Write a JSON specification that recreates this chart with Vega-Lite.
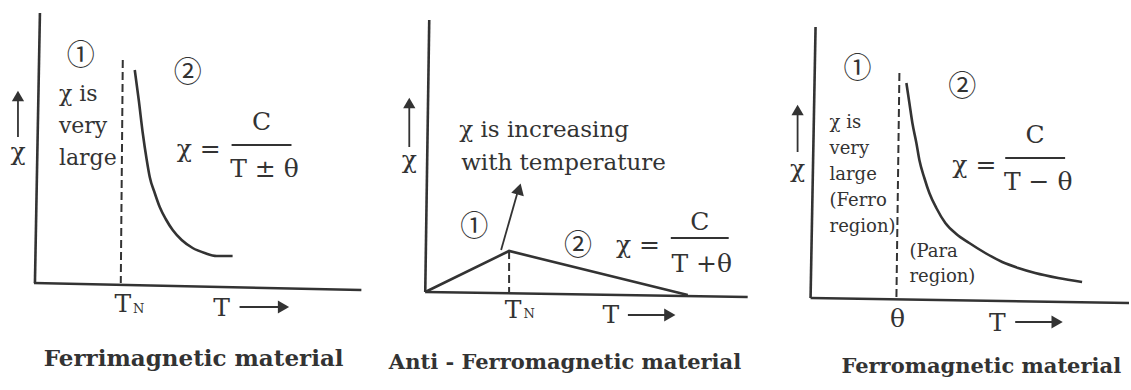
{
  "$schema": "https://vega.github.io/schema/vega-lite/v6.json",
  "autosize": {"type": "fit", "contains": "padding"},
  "width": 1131,
  "height": 390,
  "padding": 0,
  "background": "white",
  "config": {"view": {"stroke": null}, "axis": {"disable": true}},
  "datasets": {
    "seg": [
      {"kind": "axis", "x": 40, "y": 13, "x2": 35, "y2": 283},
      {"kind": "axis", "x": 34, "y": 283, "x2": 362, "y2": 290},
      {"kind": "axis", "x": 430, "y": 20, "x2": 426, "y2": 292},
      {"kind": "axis", "x": 426, "y": 292, "x2": 749, "y2": 297},
      {"kind": "axis", "x": 817, "y": 27, "x2": 812, "y2": 298},
      {"kind": "axis", "x": 812, "y": 298, "x2": 1131, "y2": 303},
      {"kind": "dash", "x": 123, "y": 60, "x2": 121, "y2": 283},
      {"kind": "dash", "x": 510, "y": 251, "x2": 510, "y2": 292},
      {"kind": "dash", "x": 901, "y": 73, "x2": 898, "y2": 298},
      {"kind": "thin", "x": 18, "y": 137, "x2": 18, "y2": 98},
      {"kind": "thin", "x": 240, "y": 307, "x2": 280, "y2": 307},
      {"kind": "thin", "x": 410, "y": 147, "x2": 410, "y2": 105},
      {"kind": "thin", "x": 629, "y": 315, "x2": 667, "y2": 315},
      {"kind": "thin", "x": 502, "y": 250, "x2": 518, "y2": 194},
      {"kind": "thin", "x": 799, "y": 152, "x2": 799, "y2": 112},
      {"kind": "thin", "x": 1017, "y": 322, "x2": 1055, "y2": 322},
      {"kind": "bar", "x": 232, "y": 145, "x2": 292, "y2": 145},
      {"kind": "bar", "x": 672, "y": 238, "x2": 730, "y2": 238},
      {"kind": "bar", "x": 1007, "y": 158, "x2": 1067, "y2": 158}
    ],
    "curve": [
      {"c": "p1", "i": 0, "x": 135, "y": 70},
      {"c": "p1", "i": 1, "x": 139, "y": 100},
      {"c": "p1", "i": 2, "x": 143, "y": 133},
      {"c": "p1", "i": 3, "x": 147, "y": 160},
      {"c": "p1", "i": 4, "x": 150, "y": 177},
      {"c": "p1", "i": 5, "x": 155, "y": 193},
      {"c": "p1", "i": 6, "x": 160, "y": 207},
      {"c": "p1", "i": 7, "x": 166, "y": 219},
      {"c": "p1", "i": 8, "x": 173, "y": 230},
      {"c": "p1", "i": 9, "x": 182, "y": 240},
      {"c": "p1", "i": 10, "x": 193, "y": 248},
      {"c": "p1", "i": 11, "x": 205, "y": 253},
      {"c": "p1", "i": 12, "x": 217, "y": 256},
      {"c": "p1", "i": 13, "x": 233, "y": 256},
      {"c": "p3", "i": 0, "x": 908, "y": 83},
      {"c": "p3", "i": 1, "x": 911, "y": 103},
      {"c": "p3", "i": 2, "x": 914, "y": 123},
      {"c": "p3", "i": 3, "x": 918, "y": 143},
      {"c": "p3", "i": 4, "x": 921, "y": 160},
      {"c": "p3", "i": 5, "x": 926, "y": 178},
      {"c": "p3", "i": 6, "x": 931, "y": 193},
      {"c": "p3", "i": 7, "x": 938, "y": 208},
      {"c": "p3", "i": 8, "x": 947, "y": 223},
      {"c": "p3", "i": 9, "x": 958, "y": 234},
      {"c": "p3", "i": 10, "x": 971, "y": 243},
      {"c": "p3", "i": 11, "x": 987, "y": 253},
      {"c": "p3", "i": 12, "x": 1004, "y": 262},
      {"c": "p3", "i": 13, "x": 1020, "y": 268},
      {"c": "p3", "i": 14, "x": 1037, "y": 273},
      {"c": "p3", "i": 15, "x": 1060, "y": 278},
      {"c": "p3", "i": 16, "x": 1084, "y": 282}
    ],
    "tri": [
      {"i": 0, "x": 426, "y": 292},
      {"i": 1, "x": 510, "y": 251},
      {"i": 2, "x": 689, "y": 295}
    ],
    "head": [
      {"dir": "up", "x": 18, "y": 96},
      {"dir": "up", "x": 410, "y": 103},
      {"dir": "up", "x": 799, "y": 110},
      {"dir": "right", "x": 284, "y": 307},
      {"dir": "right", "x": 671, "y": 315},
      {"dir": "right", "x": 1059, "y": 322},
      {"dir": "slant", "x": 520, "y": 189}
    ],
    "txt": [
      {"role": "circ", "label": "①", "x": 81, "y": 57},
      {"role": "circ", "label": "②", "x": 188, "y": 74},
      {"role": "body", "label": "χ is", "x": 59, "y": 101},
      {"role": "body", "label": "very", "x": 59, "y": 133},
      {"role": "body", "label": "large", "x": 59, "y": 165},
      {"role": "eq", "label": "χ =", "x": 177, "y": 157},
      {"role": "frac", "label": "C", "x": 262, "y": 130},
      {"role": "frac", "label": "T ± θ", "x": 265, "y": 177},
      {"role": "sym", "label": "χ", "x": 18, "y": 160},
      {"role": "sym", "label": "T", "x": 123, "y": 312},
      {"role": "sub", "label": "N", "x": 139, "y": 313},
      {"role": "sym", "label": "T", "x": 222, "y": 316},
      {"role": "titleL", "label": "Ferrimagnetic material", "x": 194, "y": 366},
      {"role": "bodyL", "label": "χ is increasing", "x": 460, "y": 137},
      {"role": "bodyL", "label": "with temperature", "x": 462, "y": 170},
      {"role": "circ", "label": "①", "x": 475, "y": 228},
      {"role": "circ", "label": "②", "x": 579, "y": 247},
      {"role": "eq", "label": "χ =", "x": 617, "y": 253},
      {"role": "frac", "label": "C", "x": 701, "y": 230},
      {"role": "frac", "label": "T +θ", "x": 703, "y": 272},
      {"role": "sym", "label": "χ", "x": 410, "y": 168},
      {"role": "sym", "label": "T", "x": 514, "y": 318},
      {"role": "sub", "label": "N", "x": 530, "y": 318},
      {"role": "sym", "label": "T", "x": 612, "y": 323},
      {"role": "title", "label": "Anti - Ferromagnetic material", "x": 566, "y": 369},
      {"role": "circ", "label": "①", "x": 859, "y": 70},
      {"role": "circ", "label": "②", "x": 964, "y": 88},
      {"role": "body3", "label": "χ is", "x": 831, "y": 128},
      {"role": "body3", "label": "very", "x": 831, "y": 154},
      {"role": "body3", "label": "large", "x": 831, "y": 180},
      {"role": "body3", "label": "(Ferro", "x": 831, "y": 206},
      {"role": "body3", "label": "region)", "x": 831, "y": 232},
      {"role": "body3", "label": "(Para", "x": 911, "y": 257},
      {"role": "body3", "label": "region)", "x": 911, "y": 282},
      {"role": "eq", "label": "χ =", "x": 954, "y": 173},
      {"role": "frac", "label": "C", "x": 1037, "y": 143},
      {"role": "frac", "label": "T − θ", "x": 1040, "y": 190},
      {"role": "sym", "label": "χ", "x": 799, "y": 177},
      {"role": "sym", "label": "θ", "x": 899, "y": 327},
      {"role": "sym", "label": "T", "x": 999, "y": 331},
      {"role": "title", "label": "Ferromagnetic material", "x": 983, "y": 373}
    ]
  },
  "layer": [
    {
      "data": {"name": "seg"},
      "transform": [{"filter": "datum.kind === 'axis'"}],
      "mark": {"type": "rule", "color": "#333", "strokeWidth": 2.6},
      "encoding": {
        "x": {"field": "x", "type": "quantitative", "scale": {"domain": [0, 1131], "nice": false, "zero": false}},
        "y": {"field": "y", "type": "quantitative", "scale": {"domain": [0, 390], "nice": false, "zero": false, "reverse": true}},
        "x2": {"field": "x2"},
        "y2": {"field": "y2"}
      }
    },
    {
      "data": {"name": "seg"},
      "transform": [{"filter": "datum.kind === 'dash'"}],
      "mark": {"type": "rule", "color": "#333", "strokeWidth": 2, "strokeDash": [8, 4]},
      "encoding": {
        "x": {"field": "x", "type": "quantitative"},
        "y": {"field": "y", "type": "quantitative"},
        "x2": {"field": "x2"},
        "y2": {"field": "y2"}
      }
    },
    {
      "data": {"name": "seg"},
      "transform": [{"filter": "datum.kind === 'thin'"}],
      "mark": {"type": "rule", "color": "#333", "strokeWidth": 1.8},
      "encoding": {
        "x": {"field": "x", "type": "quantitative"},
        "y": {"field": "y", "type": "quantitative"},
        "x2": {"field": "x2"},
        "y2": {"field": "y2"}
      }
    },
    {
      "data": {"name": "seg"},
      "transform": [{"filter": "datum.kind === 'bar'"}],
      "mark": {"type": "rule", "color": "#333", "strokeWidth": 2.2},
      "encoding": {
        "x": {"field": "x", "type": "quantitative"},
        "y": {"field": "y", "type": "quantitative"},
        "x2": {"field": "x2"},
        "y2": {"field": "y2"}
      }
    },
    {
      "data": {"name": "curve"},
      "mark": {"type": "line", "color": "#333", "strokeWidth": 2.6, "interpolate": "monotone"},
      "encoding": {
        "x": {"field": "x", "type": "quantitative"},
        "y": {"field": "y", "type": "quantitative"},
        "detail": {"field": "c"},
        "order": {"field": "i"}
      }
    },
    {
      "data": {"name": "tri"},
      "mark": {"type": "line", "color": "#333", "strokeWidth": 2.6},
      "encoding": {
        "x": {"field": "x", "type": "quantitative"},
        "y": {"field": "y", "type": "quantitative"},
        "order": {"field": "i"}
      }
    },
    {
      "data": {"name": "head"},
      "transform": [{"filter": "datum.dir === 'up'"}],
      "mark": {"type": "point", "shape": "triangle-up", "filled": true, "color": "#333", "opacity": 1, "size": 150},
      "encoding": {
        "x": {"field": "x", "type": "quantitative"},
        "y": {"field": "y", "type": "quantitative"}
      }
    },
    {
      "data": {"name": "head"},
      "transform": [{"filter": "datum.dir === 'right'"}],
      "mark": {"type": "point", "shape": "triangle-right", "filled": true, "color": "#333", "opacity": 1, "size": 170},
      "encoding": {
        "x": {"field": "x", "type": "quantitative"},
        "y": {"field": "y", "type": "quantitative"}
      }
    },
    {
      "data": {"name": "head"},
      "transform": [{"filter": "datum.dir === 'slant'"}],
      "mark": {"type": "point", "shape": "triangle-up", "filled": true, "color": "#333", "opacity": 1, "size": 170, "angle": 16},
      "encoding": {
        "x": {"field": "x", "type": "quantitative"},
        "y": {"field": "y", "type": "quantitative"}
      }
    },
    {
      "data": {"name": "txt"},
      "transform": [{"filter": "datum.role === 'body'"}],
      "mark": {"type": "text", "font": "DejaVu Serif", "fontSize": 22, "align": "left", "baseline": "alphabetic", "color": "#333"},
      "encoding": {
        "x": {"field": "x", "type": "quantitative"},
        "y": {"field": "y", "type": "quantitative"},
        "text": {"field": "label"}
      }
    },
    {
      "data": {"name": "txt"},
      "transform": [{"filter": "datum.role === 'bodyL'"}],
      "mark": {"type": "text", "font": "DejaVu Serif", "fontSize": 23, "align": "left", "baseline": "alphabetic", "color": "#333"},
      "encoding": {
        "x": {"field": "x", "type": "quantitative"},
        "y": {"field": "y", "type": "quantitative"},
        "text": {"field": "label"}
      }
    },
    {
      "data": {"name": "txt"},
      "transform": [{"filter": "datum.role === 'body3'"}],
      "mark": {"type": "text", "font": "DejaVu Serif", "fontSize": 18, "align": "left", "baseline": "alphabetic", "color": "#333"},
      "encoding": {
        "x": {"field": "x", "type": "quantitative"},
        "y": {"field": "y", "type": "quantitative"},
        "text": {"field": "label"}
      }
    },
    {
      "data": {"name": "txt"},
      "transform": [{"filter": "datum.role === 'eq'"}],
      "mark": {"type": "text", "font": "DejaVu Serif", "fontSize": 25, "align": "left", "baseline": "alphabetic", "color": "#333"},
      "encoding": {
        "x": {"field": "x", "type": "quantitative"},
        "y": {"field": "y", "type": "quantitative"},
        "text": {"field": "label"}
      }
    },
    {
      "data": {"name": "txt"},
      "transform": [{"filter": "datum.role === 'frac' || datum.role === 'sym'"}],
      "mark": {"type": "text", "font": "DejaVu Serif", "fontSize": 25, "align": "center", "baseline": "alphabetic", "color": "#333"},
      "encoding": {
        "x": {"field": "x", "type": "quantitative"},
        "y": {"field": "y", "type": "quantitative"},
        "text": {"field": "label"}
      }
    },
    {
      "data": {"name": "txt"},
      "transform": [{"filter": "datum.role === 'sub'"}],
      "mark": {"type": "text", "font": "DejaVu Serif", "fontSize": 13, "align": "center", "baseline": "alphabetic", "color": "#333"},
      "encoding": {
        "x": {"field": "x", "type": "quantitative"},
        "y": {"field": "y", "type": "quantitative"},
        "text": {"field": "label"}
      }
    },
    {
      "data": {"name": "txt"},
      "transform": [{"filter": "datum.role === 'circ'"}],
      "mark": {"type": "text", "font": "Noto Sans CJK JP", "fontSize": 28, "align": "center", "baseline": "middle", "color": "#333"},
      "encoding": {
        "x": {"field": "x", "type": "quantitative"},
        "y": {"field": "y", "type": "quantitative"},
        "text": {"field": "label"}
      }
    },
    {
      "data": {"name": "txt"},
      "transform": [{"filter": "datum.role === 'title'"}],
      "mark": {"type": "text", "font": "DejaVu Serif", "fontSize": 21, "fontWeight": "bold", "align": "center", "baseline": "alphabetic", "color": "#333"},
      "encoding": {
        "x": {"field": "x", "type": "quantitative"},
        "y": {"field": "y", "type": "quantitative"},
        "text": {"field": "label"}
      }
    },
    {
      "data": {"name": "txt"},
      "transform": [{"filter": "datum.role === 'titleL'"}],
      "mark": {"type": "text", "font": "DejaVu Serif", "fontSize": 23, "fontWeight": "bold", "align": "center", "baseline": "alphabetic", "color": "#333"},
      "encoding": {
        "x": {"field": "x", "type": "quantitative"},
        "y": {"field": "y", "type": "quantitative"},
        "text": {"field": "label"}
      }
    }
  ]
}
